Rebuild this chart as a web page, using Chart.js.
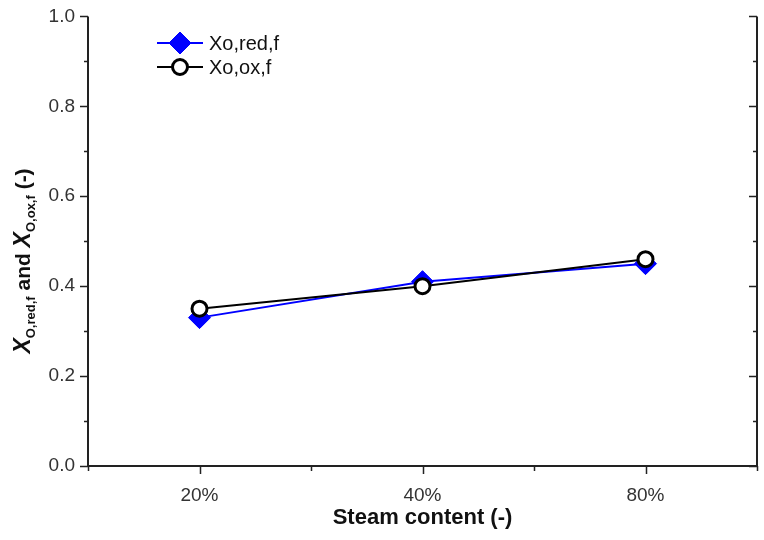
<!DOCTYPE html>
<html>
<head>
<meta charset="utf-8">
<script src="https://cdn.jsdelivr.net/npm/chart.js@4"></script>
<style>
  html, body { margin: 0; padding: 0; background: #fff; }
  #wrap { width: 764px; height: 540px; }
</style>
</head>
<body>
<div id="wrap"><canvas id="steamChart" width="764" height="540"></canvas></div>
<script>
const categories = ['20%', '40%', '80%'];
const xoRed = [0.33, 0.41, 0.45];
const xoOx = [0.35, 0.40, 0.46];
const yTicks = [0.0, 0.2, 0.4, 0.6, 0.8, 1.0];

const axisColor = '#222';
const font = "'Liberation Sans', Arial, sans-serif";

// axes, ticks, legend and y title drawn with the scales
const framePlugin = {
    id: 'frame',
    afterDatasetsDraw(chart) {
        const ctx = chart.ctx;
        const x = chart.scales.x;
        const y = chart.scales.y;
        const a = chart.chartArea;
        ctx.save();
        ctx.strokeStyle = axisColor;
        ctx.lineWidth = 2;
        ctx.beginPath();
        ctx.moveTo(a.left, a.top);
        ctx.lineTo(a.left, a.bottom);
        ctx.lineTo(a.right, a.bottom);
        ctx.lineTo(a.right, a.top);
        ctx.stroke();

        ctx.lineWidth = 1.5;
        ctx.beginPath();
        // y major + minor ticks, left outward, right inward
        for (let v = 0; v <= 1.0001; v += 0.1) {
            const py = Math.round(y.getPixelForValue(v)) + 0.5;
            const major = Math.round(v * 10) % 2 === 0;
            const len = major ? 8 : 4;
            ctx.moveTo(a.left, py);
            ctx.lineTo(a.left - len, py);
            ctx.moveTo(a.right, py);
            ctx.lineTo(a.right - len, py);
        }
        // x major ticks on categories, minor on boundaries
        categories.forEach((c, i) => {
            const px = Math.round(x.getPixelForValue(i)) + 0.5;
            ctx.moveTo(px, a.bottom);
            ctx.lineTo(px, a.bottom + 8);
        });
        for (let i = 0; i <= categories.length; i++) {
            const px = Math.round(x.getPixelForValue(i - 0.5)) + 0.5;
            ctx.moveTo(px, a.bottom);
            ctx.lineTo(px, a.bottom + 5);
        }
        ctx.stroke();

        // legend
        chart.data.datasets.forEach((ds, i) => {
            const ly = 43 + i * 24;
            ctx.strokeStyle = ds.borderColor;
            ctx.lineWidth = 2;
            ctx.beginPath();
            ctx.moveTo(157, ly);
            ctx.lineTo(203, ly);
            ctx.stroke();
            ctx.fillStyle = ds.pointBackgroundColor;
            ctx.strokeStyle = ds.pointBorderColor;
            ctx.lineWidth = ds.pointBorderWidth;
            Chart.helpers.drawPoint(ctx, {
                pointStyle: ds.pointStyle,
                radius: ds.pointRadius,
                borderWidth: ds.pointBorderWidth
            }, 180, ly);
            ctx.fillStyle = '#111';
            ctx.font = '20px ' + font;
            ctx.textBaseline = 'middle';
            ctx.textAlign = 'left';
            ctx.fillText(ds.label, 209, ly + 1);
        });

        // y title with subscripts
        const parts = [
            { t: 'X', f: 'italic bold 23px ', dy: 0 },
            { t: 'O,red,f', f: 'bold 13px ', dy: 5 },
            { t: ' and ', f: 'bold 21px ', dy: 0 },
            { t: 'X', f: 'italic bold 23px ', dy: 0 },
            { t: 'O,ox,f', f: 'bold 13px ', dy: 5 },
            { t: ' (-)', f: 'bold 21px ', dy: 0 }
        ];
        let total = 0;
        parts.forEach(p => { ctx.font = p.f + font; p.w = ctx.measureText(p.t).width; total += p.w; });
        ctx.translate(30, 261);
        ctx.rotate(-Math.PI / 2);
        ctx.fillStyle = '#111';
        ctx.textBaseline = 'alphabetic';
        ctx.textAlign = 'left';
        let cx = -total / 2;
        parts.forEach(p => {
            ctx.font = p.f + font;
            ctx.fillText(p.t, cx, p.dy);
            cx += p.w;
        });
        ctx.restore();
    }
};

new Chart(document.getElementById('steamChart'), {
    type: 'line',
    data: {
        labels: categories,
        datasets: [
            {
                label: 'Xo,red,f',
                data: xoRed,
                order: 1,
                borderColor: '#0000ff',
                borderWidth: 2,
                pointStyle: 'rectRot',
                pointRadius: 11,
                pointBackgroundColor: '#0000ff',
                pointBorderColor: '#0000ff',
                pointBorderWidth: 1,
                tension: 0
            },
            {
                label: 'Xo,ox,f',
                data: xoOx,
                order: 0,
                borderColor: '#000000',
                borderWidth: 2,
                pointStyle: 'circle',
                pointRadius: 7.5,
                pointBackgroundColor: '#ffffff',
                pointBorderColor: '#000000',
                pointBorderWidth: 3,
                tension: 0
            }
        ]
    },
    options: {
        responsive: false,
        animation: false,
        layout: { autoPadding: false, padding: { left: 0, right: 7, top: 16, bottom: 0 } },
        scales: {
            x: {
                type: 'category',
                offset: true,
                grid: { display: false },
                border: { display: false },
                ticks: { color: '#333', font: { family: font, size: 19 }, padding: 10, maxRotation: 0 },
                title: { display: true, text: 'Steam content (-)', color: '#111', font: { family: font, size: 22, weight: 'bold' }, padding: { top: 0, bottom: 9 } },
                afterFit: s => { s.height = 74; }
            },
            y: {
                min: 0,
                max: 1.0,
                grid: { display: false },
                border: { display: false },
                afterBuildTicks: s => { s.ticks = yTicks.map(v => ({ value: v })); },
                ticks: { color: '#333', font: { family: font, size: 19 }, padding: 5, callback: v => v.toFixed(1) },
                afterFit: s => { s.width = 88; }
            }
        },
        plugins: {
            legend: { display: false },
            tooltip: { enabled: false }
        }
    },
    plugins: [framePlugin]
});
</script>
</body>
</html>
